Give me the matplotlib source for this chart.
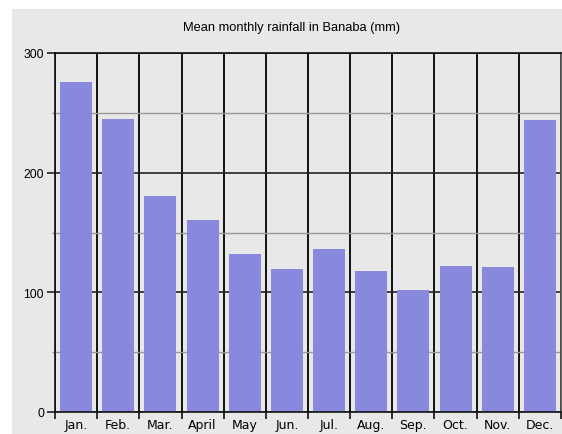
import matplotlib.pyplot as plt
from matplotlib.patches import Rectangle
from matplotlib.ticker import MultipleLocator
import numpy as np

plt.rcParams['font.family'] = ['Liberation Sans', 'DejaVu Sans']

months = ['Jan.', 'Feb.', 'Mar.', 'April', 'May', 'Jun.',
          'Jul.', 'Aug.', 'Sep.', 'Oct.', 'Nov.', 'Dec.']
rainfall = [276, 245, 180.5, 160.5, 132, 119.5, 136, 118, 102, 122, 121, 244]

W, H = 562, 435
fig = plt.figure(figsize=(W / 100, H / 100), dpi=100)
fig.patches.append(Rectangle((12 / W, 0), 1 - 12 / W, 1 - 10 / H,
                             transform=fig.transFigure, facecolor='#e8e8e8',
                             edgecolor='none', zorder=-10))

ax = fig.add_axes([55 / W, 22 / H, 506 / W, 359 / H])
ax.set_facecolor('#e8e8e8')

x = np.arange(len(months))
ax.bar(x, rainfall, width=0.76, color='#8888dd', zorder=2)

ax.set_xlim(-0.5, len(months) - 0.5)
ax.set_ylim(0, 300)

# horizontal grid: dark every 100, light every 50
ax.yaxis.set_major_locator(MultipleLocator(100))
ax.yaxis.set_minor_locator(MultipleLocator(50))
ax.grid(axis='y', which='major', color='#222222', linewidth=1.2, zorder=1)
ax.grid(axis='y', which='minor', color='#999999', linewidth=1.0, zorder=1)

# vertical separators between months, extending below the axis as ticks
ax.set_xticks(x)
ax.set_xticklabels(months, fontfamily='DejaVu Sans', fontsize=9)
ax.set_xticks(np.arange(-0.5, len(months)), minor=True)
ax.grid(axis='x', which='minor', color='#111111', linewidth=1.4, zorder=3)
ax.tick_params(axis='x', which='major', length=0, pad=4)
ax.tick_params(axis='x', which='minor', length=5, width=1.2, color='#111111')
ax.tick_params(axis='y', which='major', length=6, width=1.2, color='#222222',
               labelsize=8.7, pad=2)
ax.tick_params(axis='y', which='minor', length=2.5, width=1.0, color='#999999')

for side in ['left', 'bottom', 'top', 'right']:
    ax.spines[side].set_color('#111111')
    ax.spines[side].set_linewidth(1.2)
ax.spines['right'].set_color('#555555')

fig.text(292 / W, 1 - 27.5 / H, 'Mean monthly rainfall in Banaba (mm)',
         ha='center', va='center', fontsize=9.3)

fig.savefig('out.png', dpi=100)
